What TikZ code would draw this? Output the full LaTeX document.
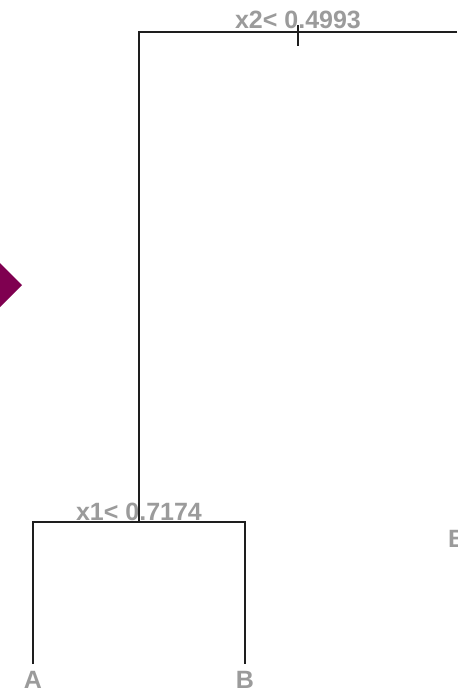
\documentclass[tikz,border=0pt]{standalone}
\usepackage{fontspec}
\setmainfont{Liberation Sans}
\usepackage{xcolor}
\usepackage{tikz}
\usetikzlibrary{positioning}
\definecolor{rotulo}{HTML}{9B9B9B}
\definecolor{ramo}{HTML}{1E1E1E}
\definecolor{marcador}{HTML}{7F0050}
\tikzset{
    regra/.style={
        font=\fontsize{25}{25}\selectfont\bfseries,
        text=rotulo,
        inner sep=0pt,
        anchor=base
    },
    folha/.style={regra, anchor=north},
    aresta/.style={draw=ramo, line width=2pt}
}

\begin{document}
\begin{tikzpicture}[x=1pt, y=-1pt]
        \useasboundingbox (0,0) rectangle (457,692);
        \clip (0,0) rectangle (457,692);
        \fill[white] (0,0) rectangle (457,692);

        % marcador roxo na borda esquerda
        \fill[marcador] (-22,285) -- (0,263) -- (22,285) -- (0,307) -- cycle;

        \node[regra] (regra2) at (298,29) {x2< 0.4993};
        \node[regra] (regra1) at (139,520) {x1< 0.7174};
        \node[folha] (folhaA) at (33,671.5) {A};
        \node[folha] (folhaB) at (245,671.5) {B};
        \node[regra, anchor=north west] (folhaC) at (448,530) {B};

        \coordinate (no2) at (298,32);
        \coordinate (no1) at (139,522);
        \coordinate (dir2) at (457,32);

        \draw[aresta] (dir2) -| (no1);
        \draw[aresta] (no2) ++(0,-7) -- ++(0,21);
        \draw[aresta, shorten <=7.5pt, shorten >=7.5pt]
            (folhaA.north) |- (no1) -| (folhaB.north);
    \end{tikzpicture}
\end{document}
